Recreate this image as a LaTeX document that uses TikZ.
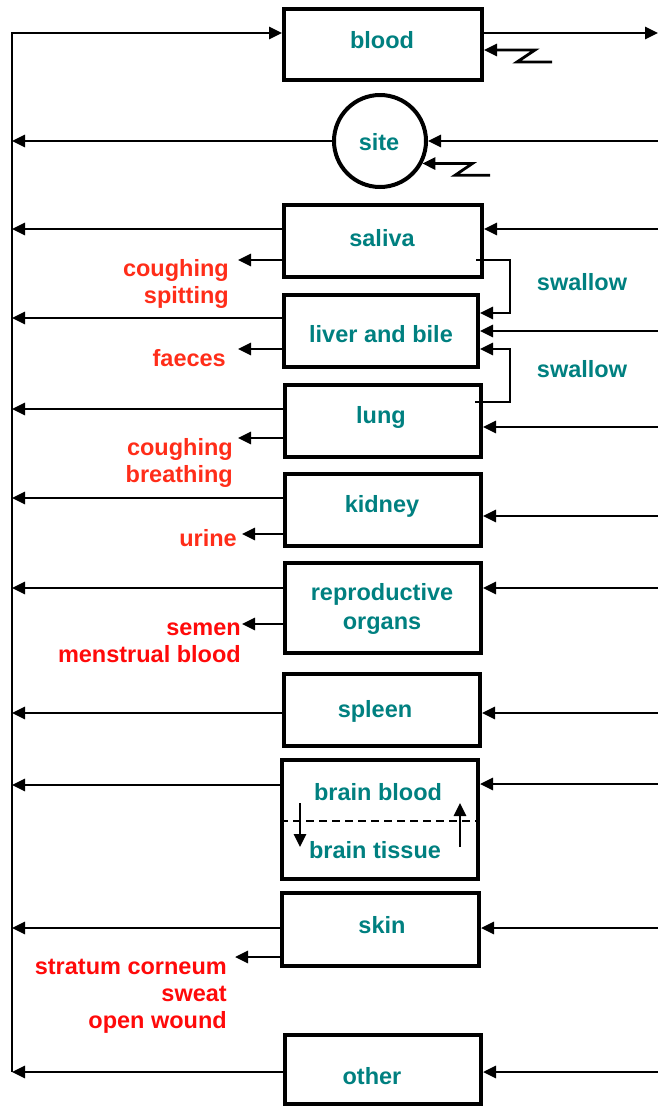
\documentclass[tikz,border=0pt]{standalone}
\usepackage{fontspec}
\setmainfont{Liberation Sans}
\usetikzlibrary{arrows.meta,calc}
\definecolor{teal1}{RGB}{0,128,128}
\definecolor{redA}{RGB}{255,45,25}
\definecolor{redB}{RGB}{255,10,10}
\begin{document}
\begin{tikzpicture}[x=1pt,y=-1pt,
  box/.style={draw,line width=4pt,rectangle,inner sep=0pt},
  conn/.style={line width=2.8pt},
  arr/.style={conn,-{Triangle[length=13pt,width=12pt]}},
  lbl/.style={inner sep=0pt,font=\fontsize{23.5}{27}\selectfont\bfseries},
  tl/.style={lbl,text=teal1,align=center},
  rl/.style={lbl,align=right,anchor=east}]
\useasboundingbox (0,0) rectangle (658,1106);
% boxes
\node[box,minimum width=198,minimum height=71] (blood) at (383,44.5) {};
\node[box,circle,minimum size=92] (site) at (380,141) {};
\node[box,minimum width=198,minimum height=72] (saliva) at (383,241) {};
\node[box,minimum width=194,minimum height=72] (liver) at (381,331) {};
\node[box,minimum width=196,minimum height=72] (lung) at (383,421) {};
\node[box,minimum width=196,minimum height=72] (kidney) at (383,510) {};
\node[box,minimum width=196,minimum height=90] (repro) at (383,608) {};
\node[box,minimum width=196,minimum height=72] (spleen) at (382,710) {};
\node[box,minimum width=196,minimum height=119] (brain) at (380,819.5) {};
\node[box,minimum width=197,minimum height=73] (skin) at (380.5,929.5) {};
\node[box,minimum width=196,minimum height=69] (other) at (383,1069.5) {};
% box texts
\node[tl] (bloodT) at (382,40) {blood};
\node[tl] (siteT) at (379,142) {site};
\node[tl] (salivaT) at (382,238) {saliva};
\node[tl] (liverT) at (381,334) {liver and bile};
\node[tl] (lungT) at (381,417) {lung};
\node[tl] (kidneyT) at (382,506) {kidney};
\node[tl,font=\fontsize{23.5}{29}\selectfont\bfseries] (reproT) at (382,608.5) {reproductive\\organs};
\node[tl] (spleenT) at (375,711) {spleen};
\node[tl] (bb) at (378,792) {brain blood};
\node[tl] (bt) at (375,850) {brain tissue};
\node[tl] (skinT) at (382,925) {skin};
\node[tl] (otherT) at (372,1076) {other};
% trunk coordinates
\coordinate (ttop) at (12,33);
\coordinate (tbot) at (12,1072);
\coordinate (t1) at (12,141);
\coordinate (t2) at (12,229);
\coordinate (t3) at (12,318);
\coordinate (t4) at (12,409);
\coordinate (t5) at (12,498);
\coordinate (t6) at (12,588);
\coordinate (t7) at (12,713);
\coordinate (t8) at (12,785);
\coordinate (t9) at (12,928);
% right coordinates
\coordinate (r0) at (658,33);
\coordinate (r1) at (658,141);
\coordinate (r2) at (658,229);
\coordinate (r3) at (658,331);
\coordinate (r4) at (658,427);
\coordinate (r5) at (658,516);
\coordinate (r6) at (658,588);
\coordinate (r7) at (658,713);
\coordinate (r8) at (658,784);
\coordinate (r9) at (658,928);
\coordinate (r10) at (658,1072);
% trunk
\draw[conn,line join=miter] (tbot) -- (ttop) -- ($(blood.west|-ttop)+(-12,0)$);
\draw[arr] (ttop) -- (blood.west|-ttop);
\draw[arr] (blood.east|-r0) -- (r0);
% left lines
\draw[arr] (site.west) -- (t1);
\draw[arr] (saliva.west|-t2) -- (t2);
\draw[arr] (liver.west|-t3) -- (t3);
\draw[arr] (lung.west|-t4) -- (t4);
\draw[arr] (kidney.west|-t5) -- (t5);
\draw[arr] (repro.west|-t6) -- (t6);
\draw[arr] (spleen.west|-t7) -- (t7);
\draw[arr] (brain.west|-t8) -- (t8);
\draw[arr] (skin.west|-t9) -- (t9);
\draw[arr] (other.west|-tbot) -- (tbot);
% right lines
\draw[arr] (r1) -- (site.east);
\draw[arr] (r2) -- (saliva.east|-r2);
\draw[arr] (r3) -- (liver.east|-r3);
\draw[arr] (r4) -- (lung.east|-r4);
\draw[arr] (r5) -- (kidney.east|-r5);
\draw[arr] (r6) -- (repro.east|-r6);
\draw[arr] (r7) -- (spleen.east|-r7);
\draw[arr] (r8) -- (brain.east|-r8);
\draw[arr] (r9) -- (skin.east|-r9);
\draw[arr] (r10) -- (other.east|-r10);
% zigzags
\coordinate (z1) at (552,62);
\draw[arr,line join=miter] (z1) -- ++(-35,0) -- ($(blood.east|-0,50)+(51,0)$) -- (blood.east|-0,50);
\coordinate (z2) at (490,175.3);
\draw[arr,line join=miter] (z2) -- ++(-35,0) -- ($(site.-28)+(50,0)$) -- (site.-28);
% swallow connectors
\coordinate (s1) at (510,260);
\coordinate (s2) at (510,313);
\coordinate (s3) at (510,402);
\coordinate (s4) at (510,349);
\draw[arr,line join=miter] ($(saliva.east|-s1)+(-8,0)$) -- (s1) -- (s2) -- (liver.east|-s2);
\draw[arr,line join=miter] ($(lung.east|-s3)+(-8,0)$) -- (s3) -- (s4) -- (liver.east|-s4);
\node[tl] (sw1) at (582,282) {swallow};
\node[tl] (sw2) at (582,369) {swallow};
% excretion arrows
\coordinate (e1) at (238,260);
\coordinate (e2) at (238,349);
\coordinate (e3) at (238,438);
\coordinate (e4) at (242,534);
\coordinate (e5) at (242,624);
\coordinate (e6) at (235,957);
\draw[arr] (saliva.west|-e1) -- (e1);
\draw[arr] (liver.west|-e2) -- (e2);
\draw[arr] (lung.west|-e3) -- (e3);
\draw[arr] (kidney.west|-e4) -- (e4);
\draw[arr] (repro.west|-e5) -- (e5);
\draw[arr] (skin.west|-e6) -- (e6);
\node[rl,text=redA] (l1) at (229,284) {coughing\\spitting};
\node[rl,text=redA] (l2) at (226,358) {faeces};
\node[rl,text=redA] (l3) at (233,463) {coughing\\breathing};
\node[rl,text=redA] (l4) at (237,538) {urine};
\node[rl,text=redB] (l5) at (241,643) {semen\\menstrual blood};
\node[rl,text=redB] (l6) at (227,996) {stratum corneum\\sweat\\open wound};
% brain interior
\coordinate (bd) at (0,821);
\draw[line width=2.8pt,dash pattern=on 8pt off 5pt] (brain.west|-bd) -- (brain.east|-bd);
\coordinate (ba) at (300,803);
\coordinate (bb2) at (300,847);
\coordinate (bc) at (460,847);
\coordinate (bd2) at (460,803);
\draw[arr] (ba) -- (bb2);
\draw[arr] (bc) -- (bd2);
\end{tikzpicture}
\end{document}
